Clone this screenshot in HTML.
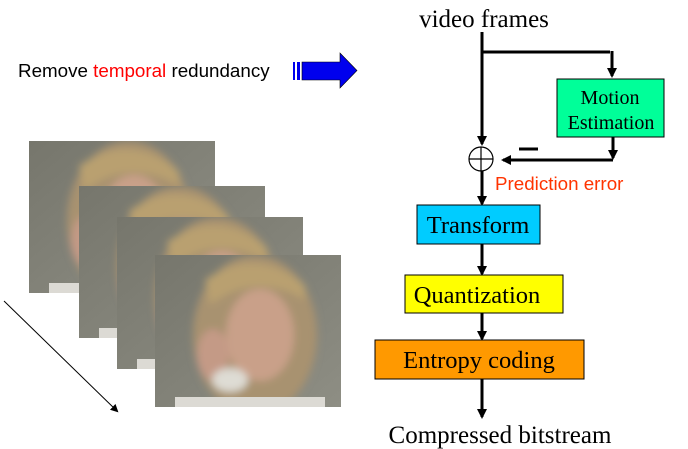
<!DOCTYPE html>
<html><head><meta charset="utf-8"><style>
html,body{margin:0;padding:0;background:#fff;width:688px;height:449px;overflow:hidden}
</style></head><body>
<svg width="688" height="449" xmlns="http://www.w3.org/2000/svg">
<defs>
<marker id="a" markerWidth="8" markerHeight="8" refX="6" refY="4" orient="auto" markerUnits="userSpaceOnUse"><path d="M0,0 L8,4 L0,8 z" fill="#000"/></marker>
<marker id="s" markerWidth="10" markerHeight="10" refX="8" refY="5" orient="auto" markerUnits="userSpaceOnUse"><path d="M0,0 L10,5 L0,10 z" fill="#000"/></marker>
<linearGradient id="bg" x1="0" y1="0" x2="1" y2="1"><stop offset="0" stop-color="#76766c"/><stop offset="1" stop-color="#8e8e84"/></linearGradient>
<filter id="bl"><feGaussianBlur stdDeviation="4"/></filter>
<clipPath id="cp"><rect width="186" height="152"/></clipPath>
<g id="fr" clip-path="url(#cp)">
<rect width="186" height="152" fill="url(#bg)"/>
<g filter="url(#bl)">
<ellipse cx="100" cy="80" rx="62" ry="80" fill="#a89270"/>
<ellipse cx="105" cy="80" rx="34" ry="46" fill="#c9a089"/>
<path d="M50,25 Q100,-10 150,30 L150,45 Q100,15 55,50z" fill="#b9a070"/>
<ellipse cx="58" cy="100" rx="16" ry="26" fill="#c49a86"/>
<ellipse cx="75" cy="125" rx="18" ry="12" fill="#dedcd4"/>
</g>
<rect x="20" y="142" width="150" height="10" fill="#dcdad4"/>
</g>
</defs>
<use href="#fr" x="29" y="141"/>
<use href="#fr" x="79" y="186"/>
<use href="#fr" x="117" y="217"/>
<use href="#fr" x="155" y="255"/>
<line x1="4" y1="301" x2="117" y2="411" stroke="#000" stroke-width="1" marker-end="url(#a)"/>
<text x="18" y="77" font-family="Liberation Sans, sans-serif" font-size="18.8">Remove <tspan fill="#f00">temporal</tspan> redundancy</text>
<rect x="293" y="62" width="2" height="18" fill="#0000ee"/>
<rect x="297" y="62" width="3" height="18" fill="#0000ee"/>
<path d="M302,62 L340,62 L340,53 L357,70.5 L340,88 L340,80 L302,80z" fill="#0000ee" stroke="#000" stroke-width="0.6"/>
<text x="484" y="27" text-anchor="middle" font-family="Liberation Serif, serif" font-size="25">video frames</text>
<g stroke="#000" stroke-width="3" fill="none">
<line x1="482" y1="32" x2="482" y2="144" marker-end="url(#s)"/>
<polyline points="482,52 610,52"/>
<line x1="612" y1="51" x2="612" y2="76" marker-end="url(#s)"/>
<line x1="613" y1="137" x2="613" y2="158" marker-end="url(#s)"/>
<line x1="613" y1="160" x2="503" y2="160" marker-end="url(#s)"/>
<line x1="482" y1="171" x2="482" y2="204" marker-end="url(#s)"/>
<line x1="482" y1="244" x2="482" y2="274" marker-end="url(#s)"/>
<line x1="482" y1="313" x2="482" y2="339" marker-end="url(#s)"/>
<line x1="482" y1="379" x2="482" y2="417" marker-end="url(#s)"/>
<line x1="519" y1="149" x2="538" y2="149"/>
</g>
<circle cx="481" cy="159" r="12" fill="#fff" stroke="#000" stroke-width="1.2"/>
<line x1="469" y1="159" x2="493" y2="159" stroke="#000" stroke-width="1.2"/>
<line x1="481" y1="147" x2="481" y2="171" stroke="#000" stroke-width="1.2"/>
<rect x="557" y="79" width="107" height="58" fill="#00ff99" stroke="#000" stroke-width="1"/>
<text x="610" y="104" text-anchor="middle" font-family="Liberation Serif, serif" font-size="20">Motion</text>
<text x="611" y="129" text-anchor="middle" font-family="Liberation Serif, serif" font-size="20">Estimation</text>
<text x="495" y="190" font-family="Liberation Sans, sans-serif" font-size="18.8" fill="#ff3300">Prediction error</text>
<rect x="417" y="205" width="123" height="39" fill="#00ccff" stroke="#000" stroke-width="1"/>
<text x="478" y="233" text-anchor="middle" font-family="Liberation Serif, serif" font-size="24.5">Transform</text>
<rect x="405" y="275" width="158" height="38" fill="#ffff00" stroke="#000" stroke-width="1"/>
<text x="477" y="303" text-anchor="middle" font-family="Liberation Serif, serif" font-size="24.5">Quantization</text>
<rect x="375" y="340" width="209" height="39" fill="#ff9900" stroke="#000" stroke-width="1"/>
<text x="479" y="368" text-anchor="middle" font-family="Liberation Serif, serif" font-size="24.5">Entropy coding</text>
<text x="500" y="443" text-anchor="middle" font-family="Liberation Serif, serif" font-size="25">Compressed bitstream</text>
</svg>
</body></html>
